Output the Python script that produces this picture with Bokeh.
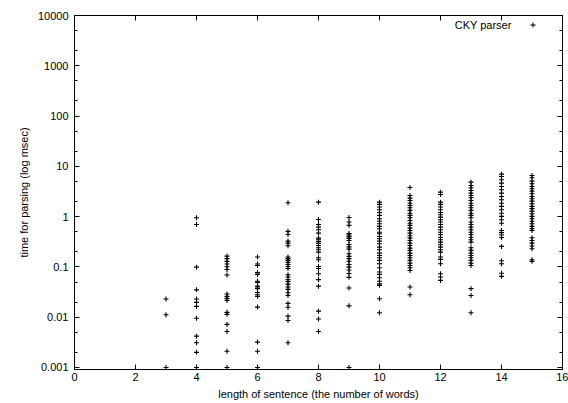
from bokeh.plotting import figure
from bokeh.models import (LogAxis, LinearAxis, FixedTicker, Label, Legend, LegendItem,
                          CustomJSTickFormatter, ColumnDataSource, Range1d)
from bokeh.core.properties import value
from bokeh.embed import file_html
from bokeh.resources import INLINE

# sentence lengths (number of words)
lengths = [3, 4, 5, 6, 7, 8, 9, 10, 11, 12, 13, 14, 15]

# parsing times in msec, read per sentence length
t3 = [0.023, 0.0112, 0.001]
t4 = [0.95, 0.70, 0.099, 0.035, 0.023, 0.0197, 0.0164, 0.0095, 0.0042, 0.0031, 0.002, 0.001]
t5 = [0.164, 0.146, 0.129, 0.114, 0.101, 0.089, 0.069, 0.029, 0.026, 0.0237, 0.0216,
      0.0125, 0.0114, 0.0072, 0.0052, 0.0021, 0.001]
t6 = [0.157, 0.114, 0.107, 0.077, 0.071, 0.052, 0.049, 0.0415, 0.040, 0.037, 0.031,
      0.028, 0.026, 0.0159, 0.0032, 0.0021, 0.001, 0.001]
t7 = [1.89, 0.51, 0.44, 0.326, 0.297, 0.264, 0.157, 0.146, 0.135, 0.123, 0.112, 0.102,
      0.093, 0.070, 0.063, 0.056, 0.051, 0.045, 0.040, 0.0357, 0.0307, 0.0271, 0.0188,
      0.0158, 0.0105, 0.0086, 0.0031]
t8 = [1.94, 0.88, 0.70, 0.62, 0.55, 0.47, 0.374, 0.348, 0.321, 0.297, 0.267, 0.241,
      0.220, 0.197, 0.152, 0.139, 0.102, 0.093, 0.073, 0.056, 0.0415, 0.0132, 0.0092, 0.0052]
t9 = [0.96, 0.78, 0.67, 0.46, 0.43, 0.40, 0.37, 0.336, 0.28, 0.25, 0.226, 0.183, 0.162,
      0.146, 0.130, 0.112, 0.099, 0.087, 0.074, 0.062, 0.038, 0.0168, 0.001]
t10 = [1.94, 1.75, 1.55, 1.37, 1.21, 1.06, 0.91, 0.81, 0.72, 0.64, 0.574, 0.49, 0.457,
       0.404, 0.364, 0.326, 0.289, 0.248, 0.22, 0.188, 0.169, 0.152, 0.135, 0.116, 0.096,
       0.079, 0.071, 0.061, 0.052, 0.046, 0.043, 0.0233, 0.0123]
t11 = [3.8, 2.64, 2.33, 2.1, 1.85, 1.67, 1.5, 1.33, 1.17, 1.06, 0.95, 0.84, 0.74, 0.67,
       0.59, 0.53, 0.47, 0.417, 0.374, 0.336, 0.297, 0.267, 0.236, 0.213, 0.188, 0.169,
       0.152, 0.135, 0.119, 0.107, 0.096, 0.085, 0.040, 0.028]
t12 = [3.07, 2.76, 1.94, 1.75, 1.55, 1.37, 1.21, 1.09, 0.98, 0.87, 0.78, 0.70, 0.62,
       0.55, 0.49, 0.44, 0.39, 0.348, 0.311, 0.276, 0.248, 0.22, 0.197, 0.157, 0.141,
       0.116, 0.073, 0.063, 0.054]
t13 = [4.85, 4.17, 3.76, 3.32, 2.93, 2.64, 2.38, 2.1, 1.85, 1.67, 1.5, 1.33, 1.17, 1.06,
       0.95, 0.78, 0.70, 0.62, 0.55, 0.49, 0.44, 0.39, 0.348, 0.311, 0.241, 0.213, 0.188,
       0.169, 0.152, 0.135, 0.119, 0.107, 0.037, 0.027, 0.0123]
t14 = [7.0, 6.3, 5.42, 4.64, 3.98, 3.42, 2.93, 2.52, 2.17, 1.85, 1.6, 1.37, 1.17, 1.01,
       0.87, 0.74, 0.53, 0.48, 0.43, 0.385, 0.256, 0.133, 0.116, 0.075, 0.065]
t15 = [6.6, 5.93, 5.08, 4.51, 3.98, 3.59, 3.21, 2.85, 2.52, 2.27, 2.03, 1.80, 1.6, 1.44,
       1.29, 1.14, 1.01, 0.91, 0.81, 0.72, 0.64, 0.574, 0.53, 0.38, 0.336, 0.297, 0.26,
       0.23, 0.139, 0.129]

series_name = "CKY parser"
y_ticks = [0.001, 0.01, 0.1, 1, 10, 100, 1000, 10000]
x_ticks = [0, 2, 4, 6, 8, 10, 12, 14, 16]

times = [t3, t4, t5, t6, t7, t8, t9, t10, t11, t12, t13, t14, t15]
xs, ys = [], []
for n, t in zip(lengths, times):
    xs += [n] * len(t)
    ys += t
src = ColumnDataSource(dict(x=xs, y=ys))

FONT = "Liberation Sans"
FS = "11px"

p = figure(width=568, height=403, x_range=Range1d(0, 16), y_range=Range1d(0.000912, 10000),
           y_axis_type="log", output_backend="svg", toolbar_location=None,
           min_border_left=74, min_border_right=6, min_border_top=15, min_border_bottom=34)
p.background_fill_color = "white"
p.border_fill_color = "white"
p.grid.visible = False
p.outline_line_color = "black"
p.outline_line_width = 1

minor_y = []
for d in y_ticks[:-1]:
    minor_y += [2 * d, 5 * d]

fmt = CustomJSTickFormatter(code="return String(tick);")
blank = CustomJSTickFormatter(code="return '';")

def style_axis(ax):
    ax.axis_line_color = "black"
    ax.major_tick_line_color = "black"
    ax.minor_tick_line_color = "black"
    ax.major_tick_in = 5
    ax.major_tick_out = 0
    ax.minor_tick_in = 3
    ax.minor_tick_out = 0
    ax.major_label_text_font = FONT
    ax.major_label_text_font_size = FS
    ax.major_label_text_color = "black"
    ax.axis_label_text_font = FONT
    ax.axis_label_text_font_size = FS
    ax.axis_label_text_font_style = "normal"
    ax.axis_label_text_color = "black"

xa = p.xaxis[0]
xa.ticker = FixedTicker(ticks=x_ticks, minor_ticks=[])
style_axis(xa)
xa.major_label_standoff = 3
xa.axis_label = "length of sentence (the number of words)"
xa.axis_label_standoff = 4

ya = p.yaxis[0]
ya.ticker = FixedTicker(ticks=y_ticks, minor_ticks=minor_y)
ya.formatter = fmt
style_axis(ya)
ya.major_label_standoff = 6
ya.axis_label = "time for parsing (log msec)"
ya.axis_label_standoff = 5

top = LinearAxis(ticker=FixedTicker(ticks=x_ticks, minor_ticks=[]), formatter=blank)
style_axis(top)
top.major_label_standoff = 0
p.add_layout(top, "above")

right = LogAxis(ticker=FixedTicker(ticks=y_ticks, minor_ticks=minor_y), formatter=blank)
style_axis(right)
right.major_label_standoff = 0
p.add_layout(right, "right")

r = p.scatter("x", "y", source=src, marker="cross", size=5, line_color="black",
              line_width=1.1)

legend = Legend(items=[LegendItem(label=value(""), renderers=[r])],
                location=(452, 338), glyph_width=13, glyph_height=13, label_height=13,
                label_width=0, label_standoff=0, padding=0, margin=0, spacing=0,
                border_line_color=None, background_fill_alpha=0,
                label_text_font=FONT, label_text_font_size=FS)
p.add_layout(legend)

p.add_layout(Label(x=14.33, y=6620, text=series_name, text_align="right",
                   text_baseline="middle", text_font=FONT, text_font_size=FS,
                   text_color="black"))

open("out.html", "w").write(file_html(p, INLINE))
